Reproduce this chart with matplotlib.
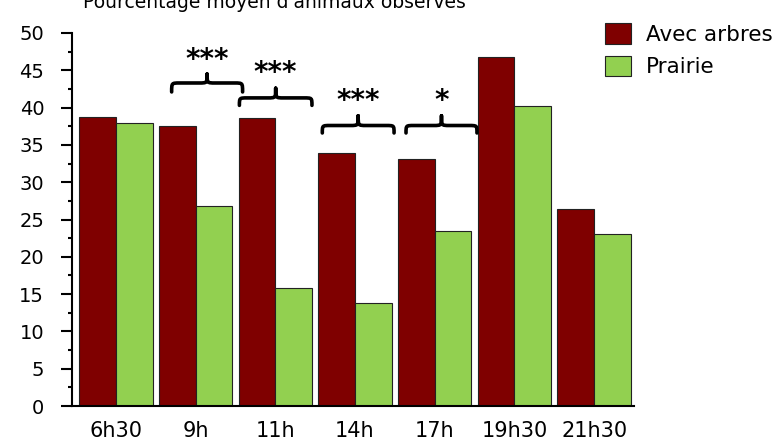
import matplotlib
matplotlib.use('Agg')
import matplotlib.pyplot as plt
import numpy as np
from matplotlib.path import Path
from matplotlib.patches import PathPatch

plt.rcParams['font.family'] = ['DejaVu Sans']

# mean percentage of animals seen at each time of day
hours = ['6h30', '9h', '11h', '14h', '17h', '19h30', '21h30']
avec_arbres = [38.7, 37.5, 38.6, 33.9, 33.1, 46.8, 26.4]
prairie = [37.9, 26.8, 15.8, 13.8, 23.5, 40.2, 23.1]

# significance markers: group index and stars
sig_groups = [1, 2, 3, 4]
sig_stars = ['***', '***', '***', '*']

# brace layout (x left, x right, y tips, y line, y peak, y stars)
braces = [
    (0.70, 1.59, 42.1, 43.3, 44.5, 46.4),
    (1.55, 2.46, 40.3, 41.3, 42.6, 44.6),
    (2.59, 3.49, 36.6, 37.6, 38.9, 40.9),
    (3.64, 4.53, 36.6, 37.6, 38.9, 40.9),
]

red = '#7f0000'
green = '#92d050'

fig = plt.figure(figsize=(7.82, 4.41), dpi=100)
ax = fig.add_axes([72 / 782, 1 - 406 / 441, (634 - 72) / 782, (406 - 33) / 441])

x = np.arange(len(hours))
w = 0.46
ax.bar(x - w / 2, avec_arbres, w, color=red, edgecolor='#222222', linewidth=0.8,
       label='Avec arbres')
ax.bar(x + w / 2, prairie, w, color=green, edgecolor='#222222', linewidth=0.8,
       label='Prairie')

ax.set_xlim(-0.55, 6.5)
ax.set_ylim(0, 50)
ax.set_yticks(np.arange(0, 51, 5))
ax.set_yticks(np.arange(0, 51, 2.5), minor=True)
ax.set_xticks(x)
ax.set_xticklabels(hours)
ax.tick_params(axis='y', which='major', direction='out', length=8, width=1.5,
               labelsize=14, pad=12)
ax.tick_params(axis='y', which='minor', direction='out', length=3, width=1.5)
ax.tick_params(axis='x', length=0, labelsize=15, pad=11)

for side in ['top', 'right']:
    ax.spines[side].set_visible(False)
for side in ['left', 'bottom']:
    ax.spines[side].set_linewidth(1.5)


def draw_brace(ax, x0, x1, y_tip, y_line, y_peak):
    xm = (x0 + x1) / 2
    r = 0.1
    verts = [
        (x0, y_tip), (x0, y_line), (x0, y_line), (x0 + r, y_line),
        (xm - r, y_line),
        (xm, y_line), (xm, y_line), (xm, y_peak),
        (xm, y_peak),
        (xm, y_line), (xm, y_line), (xm + r, y_line),
        (x1 - r, y_line),
        (x1, y_line), (x1, y_line), (x1, y_tip),
    ]
    codes = [Path.MOVETO, Path.CURVE4, Path.CURVE4, Path.CURVE4,
             Path.LINETO,
             Path.CURVE4, Path.CURVE4, Path.CURVE4,
             Path.MOVETO, Path.CURVE4, Path.CURVE4, Path.CURVE4,
             Path.LINETO,
             Path.CURVE4, Path.CURVE4, Path.CURVE4]
    path = Path(verts, codes)
    ax.add_patch(PathPatch(path, facecolor='none', edgecolor='black',
                           linewidth=2.6, capstyle='round', clip_on=False))


for g, stars, (bx0, bx1, yt, yl, yp, ys) in zip(sig_groups, sig_stars, braces):
    draw_brace(ax, bx0, bx1, yt, yl, yp)
    ax.text((bx0 + bx1) / 2, ys, stars, ha='center', va='center',
            fontsize=20, fontweight='bold')

fig.text(274 / 782, 1 - 2 / 441, "Pourcentage moyen d'animaux observés",
         ha='center', va='center', fontsize=13.5)

fig.legend(loc='upper left', bbox_to_anchor=(586 / 782, 1 - 4 / 441),
           frameon=False, fontsize=15.5, handlelength=1.2, handleheight=1.1,
           handletextpad=0.7, labelspacing=0.5)

fig.savefig('out.png', dpi=100)
